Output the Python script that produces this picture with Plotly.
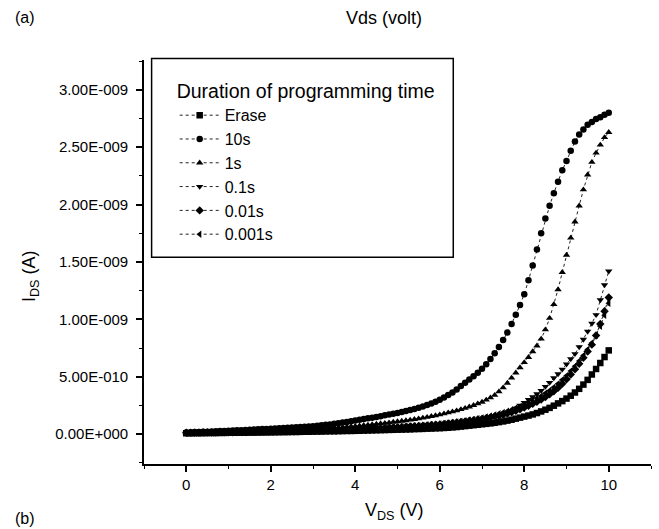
import plotly.graph_objects as go

# Drain voltage sweep (V)
v_ds = [0.0, 0.1, 0.2, 0.3, 0.4, 0.5, 0.6, 0.7, 0.8, 0.9,
        1.0, 1.1, 1.2, 1.3, 1.4, 1.5, 1.6, 1.7, 1.8, 1.9,
        2.0, 2.1, 2.2, 2.3, 2.4, 2.5, 2.6, 2.7, 2.8, 2.9,
        3.0, 3.1, 3.2, 3.3, 3.4, 3.5, 3.6, 3.7, 3.8, 3.9,
        4.0, 4.1, 4.2, 4.3, 4.4, 4.5, 4.6, 4.7, 4.8, 4.9,
        5.0, 5.1, 5.2, 5.3, 5.4, 5.5, 5.6, 5.7, 5.8, 5.9,
        6.0, 6.1, 6.2, 6.3, 6.4, 6.5, 6.6, 6.7, 6.8, 6.9,
        7.0, 7.1, 7.2, 7.3, 7.4, 7.5, 7.6, 7.7, 7.8, 7.9,
        8.0, 8.1, 8.2, 8.3, 8.4, 8.5, 8.6, 8.7, 8.8, 8.9,
        9.0, 9.1, 9.2, 9.3, 9.4, 9.5, 9.6, 9.7, 9.8, 9.9, 10.0]

# Drain current, in units of 1E-009 A (nA)
i_erase = [0.008, 0.008, 0.009, 0.009, 0.009, 0.010, 0.010, 0.010, 0.011, 0.011,
           0.012, 0.012, 0.012, 0.013, 0.013, 0.014, 0.014, 0.015, 0.015, 0.016,
           0.016, 0.017, 0.017, 0.018, 0.018, 0.019, 0.019, 0.020, 0.021, 0.021,
           0.022, 0.023, 0.023, 0.024, 0.025, 0.025, 0.026, 0.027, 0.028, 0.028,
           0.029, 0.030, 0.031, 0.032, 0.033, 0.034, 0.035, 0.036, 0.037, 0.038,
           0.039, 0.040, 0.041, 0.042, 0.044, 0.045, 0.046, 0.048, 0.049, 0.051,
           0.052, 0.054, 0.056, 0.059, 0.062, 0.066, 0.070, 0.074, 0.078, 0.082,
           0.086, 0.090, 0.094, 0.099, 0.105, 0.111, 0.118, 0.126, 0.135, 0.144,
           0.153, 0.162, 0.172, 0.184, 0.198, 0.213, 0.229, 0.248, 0.268, 0.288,
           0.310, 0.335, 0.363, 0.395, 0.432, 0.473, 0.520, 0.568, 0.620, 0.672, 0.730]

i_10s = [0.015, 0.016, 0.018, 0.019, 0.021, 0.022, 0.024, 0.025, 0.027, 0.028,
         0.030, 0.032, 0.033, 0.035, 0.036, 0.038, 0.040, 0.042, 0.044, 0.045,
         0.047, 0.049, 0.051, 0.053, 0.055, 0.057, 0.060, 0.062, 0.065, 0.067,
         0.070, 0.074, 0.078, 0.081, 0.085, 0.090, 0.095, 0.101, 0.107, 0.113,
         0.120, 0.126, 0.132, 0.138, 0.144, 0.150, 0.157, 0.164, 0.171, 0.178,
         0.185, 0.193, 0.202, 0.211, 0.220, 0.230, 0.242, 0.255, 0.268, 0.283,
         0.300, 0.320, 0.341, 0.363, 0.390, 0.420, 0.448, 0.476, 0.505, 0.536,
         0.570, 0.610, 0.655, 0.705, 0.760, 0.820, 0.885, 0.960, 1.040, 1.125,
         1.220, 1.340, 1.470, 1.610, 1.750, 1.880, 1.990, 2.100, 2.200, 2.300,
         2.380, 2.470, 2.550, 2.610, 2.655, 2.695, 2.720, 2.745, 2.762, 2.782, 2.800]

i_1s = [0.012, 0.013, 0.013, 0.014, 0.015, 0.016, 0.016, 0.017, 0.018, 0.019,
        0.020, 0.021, 0.022, 0.023, 0.024, 0.025, 0.026, 0.027, 0.028, 0.029,
        0.030, 0.031, 0.032, 0.034, 0.035, 0.037, 0.038, 0.040, 0.041, 0.043,
        0.045, 0.047, 0.049, 0.051, 0.053, 0.056, 0.058, 0.061, 0.064, 0.067,
        0.070, 0.073, 0.077, 0.080, 0.084, 0.088, 0.092, 0.096, 0.100, 0.105,
        0.110, 0.114, 0.119, 0.124, 0.129, 0.135, 0.141, 0.148, 0.155, 0.162,
        0.170, 0.178, 0.187, 0.196, 0.205, 0.215, 0.226, 0.238, 0.251, 0.265,
        0.280, 0.298, 0.318, 0.340, 0.370, 0.405, 0.445, 0.490, 0.535, 0.580,
        0.625, 0.670, 0.720, 0.770, 0.830, 0.910, 1.010, 1.130, 1.260, 1.410,
        1.560, 1.710, 1.850, 1.990, 2.130, 2.260, 2.370, 2.450, 2.520, 2.585, 2.630]

i_01s = [0.010, 0.011, 0.011, 0.012, 0.012, 0.013, 0.013, 0.014, 0.014, 0.015,
         0.016, 0.016, 0.017, 0.018, 0.018, 0.019, 0.020, 0.020, 0.021, 0.022,
         0.023, 0.024, 0.025, 0.026, 0.027, 0.028, 0.029, 0.030, 0.031, 0.032,
         0.033, 0.034, 0.035, 0.036, 0.038, 0.039, 0.040, 0.041, 0.043, 0.044,
         0.046, 0.047, 0.049, 0.050, 0.052, 0.054, 0.055, 0.057, 0.059, 0.061,
         0.063, 0.065, 0.067, 0.069, 0.071, 0.074, 0.076, 0.079, 0.081, 0.084,
         0.087, 0.090, 0.093, 0.097, 0.100, 0.104, 0.108, 0.113, 0.118, 0.124,
         0.130, 0.137, 0.145, 0.153, 0.162, 0.172, 0.185, 0.200, 0.225, 0.250,
         0.275, 0.300, 0.325, 0.350, 0.380, 0.415, 0.450, 0.490, 0.525, 0.565,
         0.610, 0.655, 0.700, 0.760, 0.825, 0.895, 0.965, 1.040, 1.170, 1.300, 1.420]

i_001s = [0.012, 0.012, 0.013, 0.013, 0.014, 0.014, 0.015, 0.015, 0.016, 0.016,
          0.017, 0.017, 0.018, 0.018, 0.019, 0.020, 0.020, 0.021, 0.022, 0.022,
          0.023, 0.024, 0.025, 0.025, 0.026, 0.027, 0.028, 0.029, 0.030, 0.031,
          0.032, 0.033, 0.034, 0.035, 0.036, 0.037, 0.038, 0.039, 0.041, 0.042,
          0.043, 0.045, 0.046, 0.048, 0.049, 0.051, 0.052, 0.054, 0.056, 0.058,
          0.060, 0.062, 0.064, 0.066, 0.068, 0.071, 0.073, 0.076, 0.079, 0.082,
          0.085, 0.089, 0.093, 0.097, 0.101, 0.106, 0.111, 0.116, 0.121, 0.127,
          0.133, 0.139, 0.146, 0.153, 0.161, 0.170, 0.180, 0.191, 0.203, 0.217,
          0.232, 0.248, 0.265, 0.283, 0.302, 0.323, 0.347, 0.374, 0.405, 0.440,
          0.478, 0.520, 0.565, 0.613, 0.665, 0.720, 0.780, 0.860, 0.960, 1.070, 1.190]

i_0001s = [0.011, 0.012, 0.012, 0.013, 0.013, 0.014, 0.014, 0.015, 0.015, 0.016,
           0.016, 0.017, 0.018, 0.018, 0.019, 0.019, 0.020, 0.021, 0.021, 0.022,
           0.023, 0.024, 0.024, 0.025, 0.026, 0.027, 0.028, 0.029, 0.030, 0.031,
           0.032, 0.033, 0.034, 0.035, 0.036, 0.038, 0.039, 0.040, 0.042, 0.043,
           0.044, 0.046, 0.047, 0.049, 0.051, 0.052, 0.054, 0.056, 0.058, 0.060,
           0.062, 0.064, 0.066, 0.068, 0.071, 0.073, 0.076, 0.079, 0.082, 0.085,
           0.088, 0.092, 0.096, 0.100, 0.105, 0.110, 0.115, 0.121, 0.127, 0.134,
           0.141, 0.149, 0.158, 0.167, 0.177, 0.188, 0.200, 0.213, 0.227, 0.242,
           0.258, 0.275, 0.293, 0.312, 0.333, 0.356, 0.381, 0.409, 0.440, 0.474,
           0.510, 0.550, 0.592, 0.637, 0.685, 0.737, 0.795, 0.862, 0.940, 1.035, 1.140]

series_names = ["Erase", "10s", "1s", "0.1s", "0.01s", "0.001s"]
series_values = [i_erase, i_10s, i_1s, i_01s, i_001s, i_0001s]
series_symbols = ["square", "circle", "triangle-up", "triangle-down", "diamond", "triangle-left"]

y_tick_vals = [0.0, 0.5, 1.0, 1.5, 2.0, 2.5, 3.0]
y_tick_text = ["0.00E+000", "5.00E-010", "1.00E-009", "1.50E-009",
               "2.00E-009", "2.50E-009", "3.00E-009"]
x_tick_vals = [0, 2, 4, 6, 8, 10]

FONT = "Liberation Sans, Arial, Helvetica, sans-serif"

fig = go.Figure()
for name, vals, sym in zip(series_names, series_values, series_symbols):
    fig.add_trace(go.Scatter(
        x=v_ds, y=vals, name=name, mode="lines+markers",
        line=dict(color="#222222", width=1, dash="dot"),
        marker=dict(symbol=sym, size=6.5, color="black", line=dict(width=0)),
    ))

axis_common = dict(
    showline=True, linecolor="black", linewidth=1.6,
    ticks="outside", ticklen=6, tickwidth=1.5, tickcolor="black",
    showgrid=False, zeroline=False, mirror=False,
    tickfont=dict(family=FONT, size=15, color="black"),
)

fig.update_layout(
    width=659, height=529,
    margin=dict(l=144, r=8, t=60, b=65),
    paper_bgcolor="white", plot_bgcolor="white",
    font=dict(family=FONT, color="black"),
    xaxis=dict(
        range=[-1, 11], tickmode="array", tickvals=x_tick_vals,
        minor=dict(dtick=1, tick0=0, ticklen=3, tickwidth=1.2, tickcolor="black", ticks="outside"),
        **axis_common,
    ),
    yaxis=dict(
        range=[-0.26, 3.26], tickmode="array", tickvals=y_tick_vals, ticktext=y_tick_text,
        minor=dict(dtick=0.25, tick0=0, ticklen=3, tickwidth=1.2, tickcolor="black", ticks="outside"),
        ticklabelstandoff=5,
        **axis_common,
    ),
    legend=dict(
        x=0.0605, y=0.968, xanchor="left", yanchor="top",
        bgcolor="rgba(0,0,0,0)", borderwidth=0,
        font=dict(family=FONT, size=16, color="black"),
        title=dict(text="Duration of programming time", font=dict(family=FONT, size=19.5)),
        tracegroupgap=0, itemwidth=40,
    ),
    shapes=[dict(type="rect", xref="paper", yref="paper",
                 x0=0.015, x1=0.61, y0=0.512, y1=1.004,
                 line=dict(color="black", width=1.5), fillcolor="rgba(0,0,0,0)")],
    annotations=[
        dict(text="(a)", xref="paper", yref="paper", x=-0.258, y=1.105, xanchor="left", yanchor="middle",
             showarrow=False, font=dict(family=FONT, size=16)),
        dict(text="Vds (volt)", xref="paper", yref="paper", x=0.395, y=1.105, xanchor="left", yanchor="middle",
             showarrow=False, font=dict(family=FONT, size=18)),
        dict(text="(b)", xref="paper", yref="paper", x=-0.258, y=-0.135, xanchor="left", yanchor="middle",
             showarrow=False, font=dict(family=FONT, size=16)),
        dict(text="V<sub>DS</sub> (V)", xref="paper", yref="paper", x=0.495, y=-0.118,
             xanchor="center", yanchor="middle", showarrow=False, font=dict(family=FONT, size=18)),
        dict(text="I<sub>DS</sub> (A)", xref="paper", yref="paper", x=-0.225, y=0.465, textangle=-90,
             xanchor="center", yanchor="middle", showarrow=False, font=dict(family=FONT, size=18)),
    ],
)

fig.write_html("out.html", config={"displayModeBar": False},
               post_script="document.body.style.margin='0px';document.body.style.padding='0px';")
